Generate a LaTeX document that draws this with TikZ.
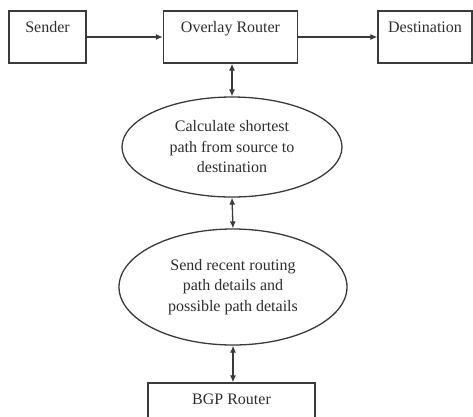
\documentclass[tikz,border=0pt]{standalone}
\usepackage{fontspec}
\setmainfont{Liberation Serif}
\usetikzlibrary{shapes.geometric,arrows.meta}
\definecolor{ln}{HTML}{3A3A3A}
\definecolor{tx}{HTML}{2E2E2E}
\begin{document}
\begin{tikzpicture}[x=1pt,y=-1pt,
  every node/.style={text=tx},
  box/.style={draw=ln,line width=1.3pt,rectangle,inner xsep=0pt,inner ysep=0pt,
    minimum height=52pt,text height=21pt,text depth=31pt,font=\fontsize{16}{18}\selectfont},
  oval/.style={draw=ln,line width=1.3pt,ellipse,inner sep=0pt,align=center,
    font=\fontsize{16}{20.5}\selectfont},
  arr/.style={draw=ln,line width=1.3pt,-{Latex[length=7pt,width=6pt]}},
  darr/.style={draw=ln,line width=1.3pt,{Latex[length=7pt,width=6pt]}-{Latex[length=7pt,width=6pt]}}]
\useasboundingbox (0,0) rectangle (473,416);
\clip (0,0) rectangle (473,416);
\fill[white] (0,0) rectangle (473,416);
\node[box,minimum width=77pt] (snd) at (47.5,37) {Sender};
\node[box,minimum width=134pt] (ov) at (230.5,37) {Overlay Router};
\node[box,minimum width=94pt] (dst) at (425,37) {Destination};
\node[oval,minimum width=220pt,minimum height=100pt] (e1) at (232,147)
  {Calculate shortest\\path from source to\\destination};
\node[oval,minimum width=228pt,minimum height=116pt] (e2) at (233,287)
  {Send recent routing\\path details and\\possible path details};
\node[box,minimum width=167pt] (bgp) at (231.5,409) {BGP Router};
\draw[arr] (snd.east) -- (ov.west);
\draw[arr] (ov.east) -- (dst.west);
\draw[darr] (ov.south -| e1.north) -- (e1.north);
\draw[darr] (e1.south) -- (e2.north);
\draw[darr] (e2.south) -- (e2.south |- bgp.north);
\end{tikzpicture}
\end{document}
